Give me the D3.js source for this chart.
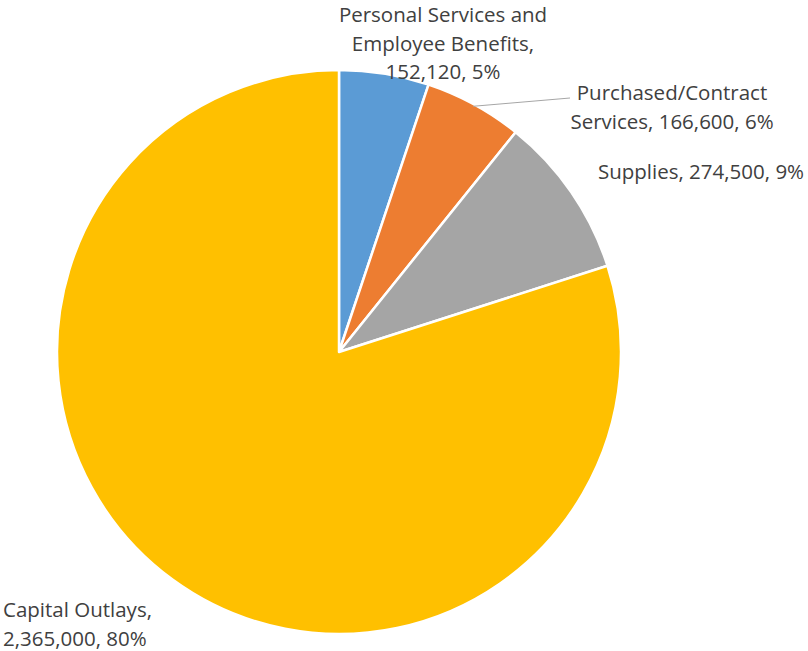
<!DOCTYPE html>
<html>
<head>
<meta charset="utf-8">
<script src="https://cdn.jsdelivr.net/npm/d3@7"></script>
<style>
  html, body { margin: 0; padding: 0; background: #ffffff; }
  svg { display: block; }
  text { font-family: "Open Sans", "Liberation Sans", sans-serif; fill: #404040; }
</style>
</head>
<body>
<svg id="chart" width="808" height="651"></svg>
<script>
// Budget categories and amounts
const categories = [
  "Personal Services and Employee Benefits",
  "Purchased/Contract Services",
  "Supplies",
  "Capital Outlays"
];
const amounts = [152120, 166600, 274500, 2365000];
const colors = ["#5b9bd5", "#ed7d31", "#a5a5a5", "#ffc000"];

// Label lines per slice as they are wrapped on the chart
const labelLines = [
  ["Personal Services and", "Employee Benefits,", "152,120, 5%"],
  ["Purchased/Contract", "Services, 166,600, 6%"],
  ["Supplies, 274,500, 9%"],
  ["Capital Outlays,", "2,365,000, 80%"]
];

const width = 808, height = 651;
const cx = 339, cy = 352, radius = 282;

const svg = d3.select("#chart");
const g = svg.append("g").attr("transform", `translate(${cx},${cy})`);

const pie = d3.pie().sort(null).value(d => d.value);
const data = categories.map((c, i) => ({ name: c, value: amounts[i], color: colors[i] }));
const arcs = pie(data);
const arc = d3.arc().innerRadius(0).outerRadius(radius);

g.selectAll("path.slice")
  .data(arcs)
  .enter().append("path")
  .attr("class", "slice")
  .attr("d", arc)
  .attr("fill", d => d.data.color)
  .attr("stroke", "#ffffff")
  .attr("stroke-width", 2.5)
  .attr("stroke-linejoin", "round");

// Label anchor positions (relative to pie center), first-line baseline
const fontSize = 20.5;
const lineGap = 28.5;
const labelPos = [
  { x: 104, y: -330, anchor: "middle" },
  { x: 333, y: -252, anchor: "middle" },
  { x: 362, y: -173, anchor: "middle" },
  { x: -336, y: 265, anchor: "start" }
];

// Leader line for the Purchased/Contract label, from slice edge to the label
const mid = (arcs[1].startAngle + arcs[1].endAngle) / 2;
const edgeR = radius - 2;
const lx0 = Math.sin(mid) * edgeR, ly0 = -Math.cos(mid) * edgeR;
g.append("path")
  .attr("d", `M${lx0},${ly0}L${labelPos[1].x - 102},${labelPos[1].y - 2}`)
  .attr("fill", "none")
  .attr("stroke", "#a6a6a6")
  .attr("stroke-width", 1);

labelLines.forEach((lines, i) => {
  const p = labelPos[i];
  const t = g.append("text")
    .attr("text-anchor", p.anchor)
    .attr("font-size", fontSize);
  lines.forEach((ln, j) => {
    t.append("tspan")
      .attr("x", p.x)
      .attr("y", p.y + j * lineGap)
      .text(ln);
  });
});
</script>
</body>
</html>
